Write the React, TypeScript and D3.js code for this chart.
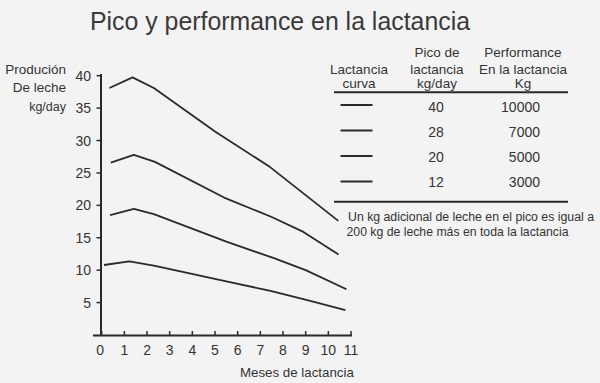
import React from "react";
import * as d3 from "d3";

// ---- data ----
const curve40: [number, number][] = [[0.34, 38.1], [1.36, 39.75], [2.3, 38.1], [5.0, 31.4], [7.43, 25.9], [10.44, 17.6]];
const curve28: [number, number][] = [[0.4, 26.6], [1.42, 27.8], [2.35, 26.7], [5.4, 21.2], [7.5, 18.2], [8.9, 15.9], [10.45, 12.4]];
const curve20: [number, number][] = [[0.37, 18.5], [1.42, 19.45], [2.3, 18.65], [5.5, 14.4], [7.6, 11.85], [9.0, 10.0], [10.8, 7.05]];
const curve12: [number, number][] = [[0.1, 10.8], [1.22, 11.35], [2.3, 10.7], [5.4, 8.35], [7.45, 6.8], [9.2, 5.25], [10.75, 3.85]];
const curves = [curve40, curve28, curve20, curve12];

const xTicks = [0, 1, 2, 3, 4, 5, 6, 7, 8, 9, 10, 11];
const yTicks = [5, 10, 15, 20, 25, 30, 35, 40];

const peakValues = ["40", "28", "20", "12"];
const performanceValues = ["10000", "7000", "5000", "3000"];

const title = "Pico y performance en la lactancia";
const yLabel = ["Produción", "De leche", "kg/day"];
const xLabel = "Meses de lactancia";
const headerLines = [
  ["", "Pico de", "Performance"],
  ["Lactancia", "lactancia", "En la lactancia"],
  ["curva", "kg/day", "Kg"],
];
const footnote = [
  "Un kg adicional de leche en el pico es igual a",
  "200 kg de leche más en toda la lactancia",
];

const FONT = "'Liberation Sans', Arial, sans-serif";
const INK = "#2a2a2a";
const TXT = "#333";

export default function App() {
  const x = d3.scaleLinear().domain([0, 11]).range([101.7, 351]);
  const y = d3.scaleLinear().domain([0, 40]).range([335, 75.7]);
  const line = d3
    .line<[number, number]>()
    .x((d) => x(d[0]))
    .y((d) => y(d[1]));

  const colX = [359, 437, 523];
  const headerBase = [56.5, 74, 88];
  const rowBase = [111.5, 136.8, 162.2, 187.4];
  const rowLine = [105, 130.5, 156, 181.5];

  return (
    <div style={{ position: "fixed", left: 0, top: 0 }}>
      <svg width={600} height={383} style={{ display: "block", background: "#f3f3f3" }} fontFamily={FONT}>
        <rect width={600} height={383} fill="#f3f3f3" />
        <text x={90} y={29.5} fontSize={25.5} fill="#3a3a3a" textLength={380} lengthAdjust="spacingAndGlyphs">{title}</text>

        {/* y label */}
        {yLabel.map((t, i) => (
          <text key={t} x={66} y={[74, 91.7, 110.5][i]} fontSize={i === 2 ? 12.5 : 13.5} textAnchor="end" fill={TXT}>
            {t}
          </text>
        ))}

        {/* axes */}
        <line x1={101} x2={101} y1={74} y2={336} stroke={INK} strokeWidth={2} />
        <line x1={93} x2={352} y1={335.5} y2={335.5} stroke={INK} strokeWidth={2} />
        {yTicks.map((t) => (
          <g key={t}>
            <line x1={96.5} x2={101} y1={y(t)} y2={y(t)} stroke={INK} strokeWidth={1.5} />
            <text x={91} y={y(t) + 5} fontSize={14} textAnchor="end" fill={TXT}>{t}</text>
          </g>
        ))}
        {xTicks.map((t) => (
          <g key={t}>
            <line x1={x(t)} x2={x(t)} y1={335.5} y2={331} stroke={INK} strokeWidth={1.5} />
            <text x={x(t) - (t === 0 ? 1.5 : 0)} y={355} fontSize={14} textAnchor="middle" fill={TXT}>{t}</text>
          </g>
        ))}
        <text x={240} y={377} fontSize={13.3} fill={TXT}>{xLabel}</text>

        {/* curves */}
        {curves.map((c, i) => (
          <path key={i} d={line(c) ?? ""} fill="none" stroke={INK} strokeWidth={1.8} strokeLinejoin="round" />
        ))}

        {/* table */}
        {headerLines.map((row, r) =>
          row.map((t, c) =>
            t ? (
              <text key={`${r}-${c}`} x={colX[c]} y={headerBase[r]} fontSize={13.5} textAnchor="middle" fill={TXT}>
                {t}
              </text>
            ) : null
          )
        )}
        <line x1={334} x2={568} y1={92.3} y2={92.3} stroke={INK} strokeWidth={2} />
        {peakValues.map((v, i) => (
          <g key={v}>
            <line x1={340.5} x2={372.5} y1={rowLine[i]} y2={rowLine[i]} stroke={INK} strokeWidth={2} />
            <text x={436} y={rowBase[i]} fontSize={14} textAnchor="middle" fill={TXT}>{v}</text>
            <text x={540} y={rowBase[i]} fontSize={14} textAnchor="end" fill={TXT}>{performanceValues[i]}</text>
          </g>
        ))}
        <line x1={334} x2={568} y1={201.7} y2={201.7} stroke={INK} strokeWidth={2} />
        <text x={348} y={220.5} fontSize={12.3} fill={TXT} textLength={246} lengthAdjust="spacingAndGlyphs">{footnote[0]}</text>
        <text x={346.5} y={235.5} fontSize={12.8} fill={TXT} textLength={222} lengthAdjust="spacingAndGlyphs">{footnote[1]}</text>
      </svg>
    </div>
  );
}
